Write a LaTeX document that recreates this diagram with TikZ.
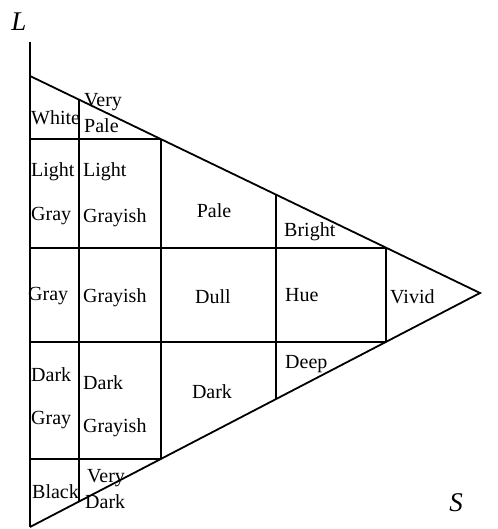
\documentclass[tikz,border=0pt]{standalone}
\usepackage{fontspec}
\setmainfont{Liberation Serif}
\begin{document}
\begin{tikzpicture}[x=1pt,y=-1pt,
  edge/.style={line width=1.8pt,black},
  lbl/.style={inner sep=0pt,font=\fontsize{20}{22}\selectfont},
  lw/.style={lbl,anchor=west},
  ax/.style={inner sep=0pt,font=\fontsize{27}{29}\selectfont\itshape}]
\useasboundingbox (0,0) rectangle (497,529);
% key points
\coordinate (Ltop) at (30,42);
\coordinate (A) at (30,76);
\coordinate (T) at (480,293);
\coordinate (B) at (30,527);
\coordinate (u1) at (79,99.6);   \coordinate (d1) at (79,501.5);
\coordinate (u2) at (161,139.2); \coordinate (d2) at (161,458.9);
\coordinate (u3) at (276,194.6); \coordinate (d3) at (276,399.1);
\coordinate (u4) at (386,247.7); \coordinate (d4) at (386,341.9);
\coordinate (h1) at (30,139.2);
\coordinate (h2) at (30,247.7);
\coordinate (h3) at (30,341.9);
\coordinate (h4) at (30,458.9);
% lines
\draw[edge] (Ltop) -- (B);
\draw[edge] (A) -- (T) -- (B);
\draw[edge] (u1) -- (d1);
\draw[edge] (u2) -- (d2);
\draw[edge] (u3) -- (d3);
\draw[edge] (u4) -- (d4);
\draw[edge] (h1) -- (u2);
\draw[edge] (h2) -- (u4);
\draw[edge] (h3) -- (d4);
\draw[edge] (h4) -- (d2);
% axis labels
\node[ax] (Lab) at (19,22) {L};
\node[ax] (Sab) at (456,503) {S};
% labels
\node[lw] (white) at (31,118) {White};
\node[lw] (vp1) at (84,102) {Very};
\node[lw] (vp2) at (84,126) {Pale};
\node[lw] (lg1) at (31,172) {Light};
\node[lw] (lg2) at (31,216) {Gray};
\node[lw] (lgy1) at (83,172) {Light};
\node[lw] (lgy2) at (83,218) {Grayish};
\node[lbl] (pale) at (214,211) {Pale};
\node[lw] (bright) at (284,232) {Bright};
\node[lw] (gray) at (28,296) {Gray};
\node[lw] (grayish) at (83,298) {Grayish};
\node[lbl] (dull) at (213,297) {Dull};
\node[lw] (hue) at (285,295) {Hue};
\node[lw] (vivid) at (390,297) {Vivid};
\node[lw] (dg1) at (31,375) {Dark};
\node[lw] (dg2) at (31,420) {Gray};
\node[lw] (dgy1) at (83,383) {Dark};
\node[lw] (dgy2) at (83,428) {Grayish};
\node[lbl] (dark) at (212,392) {Dark};
\node[lw] (deep) at (285,364) {Deep};
\node[lw] (black) at (32,492) {Black};
\node[lw] (vd1) at (87,478) {Very};
\node[lw] (vd2) at (85,502) {Dark};
\end{tikzpicture}
\end{document}
